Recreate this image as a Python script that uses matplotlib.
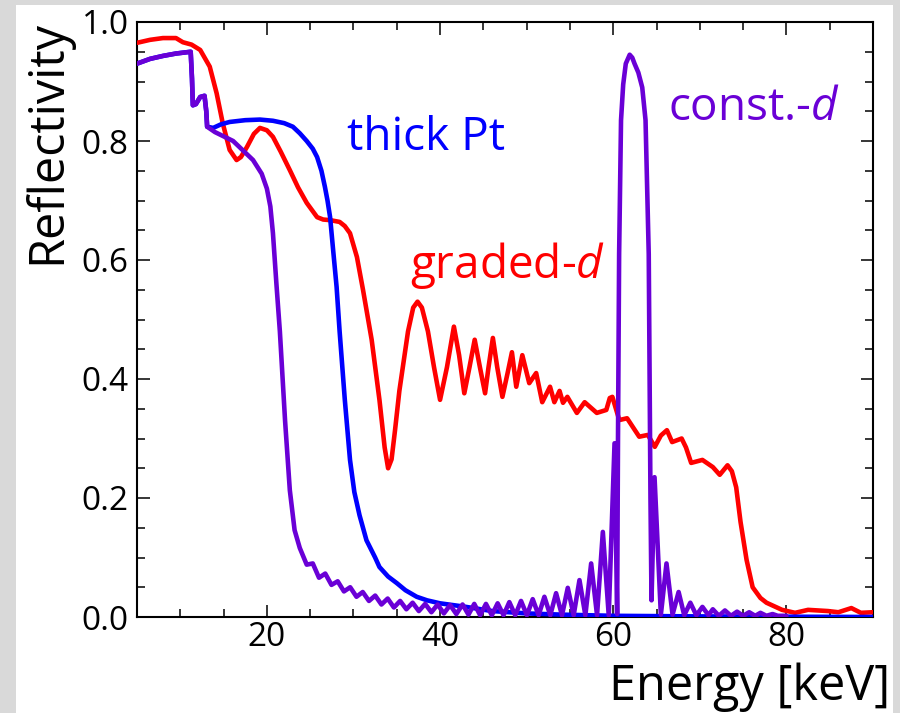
import matplotlib
matplotlib.use("Agg")
import matplotlib.pyplot as plt
from matplotlib.patches import Rectangle
from matplotlib.ticker import MultipleLocator

plt.rcParams['font.family'] = ['Open Sans', 'DejaVu Sans']
plt.rcParams['mathtext.fontset'] = 'custom'
plt.rcParams['mathtext.rm'] = 'Open Sans'
plt.rcParams['mathtext.it'] = 'Open Sans:italic'

# ---------------- data ----------------
graded_E = [5.0, 6.5, 8.0, 9.5, 10.3, 11.3, 12.3, 13.4, 14.2, 14.9, 15.7, 16.5, 17.0,
            17.7, 18.5, 19.2, 20.0, 20.7, 21.6, 22.65, 23.6, 24.6, 25.8, 26.5, 27.3,
            28.4, 29.0, 29.6, 30.4, 31.1, 32.1, 33.0, 33.6, 34.0, 34.4, 34.8, 35.3,
            36.3, 36.9, 37.4, 37.9, 38.6, 39.3, 40.0, 40.8, 41.6, 42.2, 42.8, 43.4,
            44.0, 44.6, 45.2, 45.6, 46.1, 46.6, 47.2, 47.8, 48.3, 48.8, 49.5, 50.3,
            51.1, 51.8, 52.7, 53.2, 53.8, 54.2, 54.7, 55.8, 56.7, 57.4, 58.1, 59.2,
            59.6, 59.9, 60.7, 61.6, 63.0, 64.0, 64.8, 65.5, 66.2, 66.8, 67.9, 68.4,
            69.0, 70.3, 71.5, 72.3, 73.2, 73.7, 74.2, 74.7, 75.4, 76.1, 77.0, 77.7,
            79.5, 81.0, 82.5, 84.8, 86.0, 87.5, 88.6, 90.0]
graded_R = [0.965, 0.970, 0.973, 0.973, 0.966, 0.962, 0.953, 0.925, 0.880, 0.830, 0.785,
            0.768, 0.773, 0.790, 0.812, 0.822, 0.818, 0.807, 0.782, 0.751, 0.722, 0.696,
            0.672, 0.668, 0.667, 0.664, 0.657, 0.645, 0.605, 0.550, 0.466, 0.365, 0.285,
            0.250, 0.265, 0.314, 0.380, 0.480, 0.520, 0.530, 0.520, 0.480, 0.420, 0.365,
            0.420, 0.488, 0.440, 0.376, 0.420, 0.466, 0.420, 0.376, 0.420, 0.469, 0.420,
            0.370, 0.410, 0.445, 0.387, 0.440, 0.393, 0.410, 0.361, 0.387, 0.361, 0.380,
            0.360, 0.370, 0.343, 0.361, 0.352, 0.343, 0.348, 0.368, 0.370, 0.331, 0.334,
            0.303, 0.306, 0.286, 0.305, 0.314, 0.294, 0.300, 0.285, 0.259, 0.264, 0.252,
            0.239, 0.255, 0.245, 0.218, 0.160, 0.096, 0.050, 0.032, 0.024, 0.012, 0.007,
            0.012, 0.010, 0.008, 0.015, 0.007, 0.008]

thick_E = [5.0, 6.5, 8.0, 9.5, 11.2, 11.35, 11.45, 11.8, 12.3, 12.8, 13.0, 13.1, 13.8,
           14.7, 15.7, 17.5, 19.2, 20.7, 22.0, 23.0, 23.8, 24.6, 25.3, 25.8, 26.3, 26.7,
           27.0, 27.3, 27.65, 28.05, 28.4, 29.0, 29.6, 30.1, 30.7, 31.5, 32.5, 33.0,
           34.0, 35.0, 36.0, 37.3, 38.5, 40.0, 43.0, 46.0, 50.0, 54.0, 60.0, 70.0, 90.0]
thick_R = [0.930, 0.938, 0.943, 0.947, 0.950, 0.905, 0.860, 0.862, 0.874, 0.876, 0.850,
           0.824, 0.822, 0.828, 0.832, 0.835, 0.836, 0.834, 0.830, 0.824, 0.813, 0.800,
           0.787, 0.773, 0.750, 0.723, 0.700, 0.672, 0.617, 0.555, 0.480, 0.365, 0.264,
           0.210, 0.171, 0.129, 0.100, 0.084, 0.068, 0.057, 0.045, 0.034, 0.028, 0.023,
           0.017, 0.010, 0.006, 0.004, 0.002, 0.001, 0.000]

const_E = [5.0, 6.5, 8.0, 9.5, 11.2, 11.35, 11.45, 11.8, 12.3, 12.8, 13.0, 13.1, 14.0,
           16.1, 18.4, 19.4, 20.0, 20.4, 20.7, 21.1, 21.5, 22.1, 22.65, 23.2, 23.8,
           24.6, 25.3, 26.02, 26.74, 27.46, 28.18, 28.9, 29.62, 30.35, 31.07, 31.79,
           32.51, 33.23, 33.95, 34.67, 35.39, 36.11, 36.83, 37.55, 38.28, 39.0, 39.72,
           40.44, 41.16, 41.88, 42.6, 43.28, 43.95, 44.63, 45.3, 45.98, 46.65, 47.33,
           48.0, 48.68, 49.35, 50.03, 50.7, 51.38, 52.05, 52.73, 53.4, 54.08, 54.75,
           55.43, 56.1, 56.78, 57.45, 58.13, 58.8, 59.48, 60.15, 60.45, 60.55, 60.68,
           60.9, 61.15, 61.45, 61.9, 62.2, 62.46, 62.9, 63.35, 63.73, 64.1, 64.3,
           64.42, 64.77, 65.5, 66.15, 66.85, 67.55, 68.2, 68.9, 69.6, 70.3, 71.0, 71.5,
           72.2, 72.9, 73.6, 74.3, 75.0, 75.7, 76.4, 77.0, 77.7, 78.4, 79.0, 80.0]
const_R = [0.930, 0.938, 0.943, 0.947, 0.950, 0.905, 0.860, 0.862, 0.874, 0.876, 0.850,
           0.824, 0.815, 0.800, 0.768, 0.745, 0.720, 0.690, 0.645, 0.560, 0.480, 0.330,
           0.213, 0.146, 0.116,
           0.088, 0.090, 0.066, 0.073, 0.054, 0.060, 0.043, 0.050, 0.034, 0.042, 0.027,
           0.036, 0.021, 0.031, 0.016, 0.027, 0.013, 0.024, 0.010, 0.022, 0.008, 0.021,
           0.006, 0.020, 0.005, 0.021, 0.004, 0.022, 0.003, 0.022, 0.003, 0.023, 0.003,
           0.025, 0.003, 0.027, 0.003, 0.030, 0.003, 0.034, 0.003, 0.040, 0.003, 0.049,
           0.003, 0.062, 0.003, 0.090, 0.003, 0.143, 0.003, 0.292, 0.005, 0.300, 0.610,
           0.835, 0.895, 0.930, 0.945, 0.940, 0.930, 0.915, 0.890, 0.835, 0.610, 0.200,
           0.028, 0.235, 0.004, 0.090, 0.004, 0.042, 0.003, 0.024, 0.003, 0.017, 0.003,
           0.013, 0.002, 0.011, 0.002, 0.009, 0.002, 0.008, 0.002, 0.007, 0.002, 0.005,
           0.002, 0.002]

RED = '#ff0000'
BLUE = '#0000ff'
PURPLE = '#6a00d6'

W, H = 900, 713
fig = plt.figure(figsize=(9.0, 7.13), dpi=100)
fig.patch.set_facecolor('#d9d9d9')
fig.patches.append(Rectangle((16 / W, 0), (893 - 16) / W, 1 - 5 / H,
                             transform=fig.transFigure, facecolor='white',
                             edgecolor='none', zorder=-10))

ax = fig.add_axes([137 / W, 1 - 617 / H, (873 - 137) / W, (617 - 22) / H])
ax.set_zorder(1)
ax.set_facecolor('white')

lw = 3.3
common = dict(lw=lw, solid_joinstyle='round', solid_capstyle='round')
ax.plot(graded_E, graded_R, color=RED, zorder=3, **common)
ax.plot(thick_E, thick_R, color=BLUE, zorder=4, **common)
ax.plot(const_E, const_R, color=PURPLE, zorder=5, **common)

ax.set_xlim(5, 90)
ax.set_ylim(0, 1.0)
ax.xaxis.set_major_locator(MultipleLocator(20))
ax.xaxis.set_minor_locator(MultipleLocator(5))
ax.yaxis.set_major_locator(MultipleLocator(0.2))
ax.yaxis.set_minor_locator(MultipleLocator(0.05))
ax.xaxis.set_major_formatter(plt.FuncFormatter(lambda v, p: f"{v:.0f}"))
ax.yaxis.set_major_formatter(plt.FuncFormatter(lambda v, p: f"{v:.1f}"))

ax.tick_params(which='both', direction='in', top=True, right=True, width=1.1,
               color='black', labelsize=24)
ax.tick_params(which='major', length=9)
ax.tick_params(which='minor', length=5.5)
ax.tick_params(axis='x', pad=3)
ax.tick_params(axis='y', pad=6)
for s in ax.spines.values():
    s.set_linewidth(1.5)
    s.set_color('black')

ax.text(29.23, 0.785, 'thick Pt', color=BLUE, fontsize=33, ha='left', va='baseline')
ax.text(36.5, 0.569, 'graded-$d$', color=RED, fontsize=33, ha='left', va='baseline')
ax.text(66.27, 0.835, 'const.-$d$', color=PURPLE, fontsize=33, ha='left', va='baseline')

fig.text(890 / W, 1 - 700 / H, 'Energy [keV]', fontsize=35, ha='right', va='baseline')
fig.text(60 / W, 1 - 20 / H, 'Reflectivity', fontsize=35, rotation=90,
         rotation_mode='anchor', ha='right', va='baseline')

fig.savefig('out.png', dpi=100, facecolor=fig.get_facecolor())
